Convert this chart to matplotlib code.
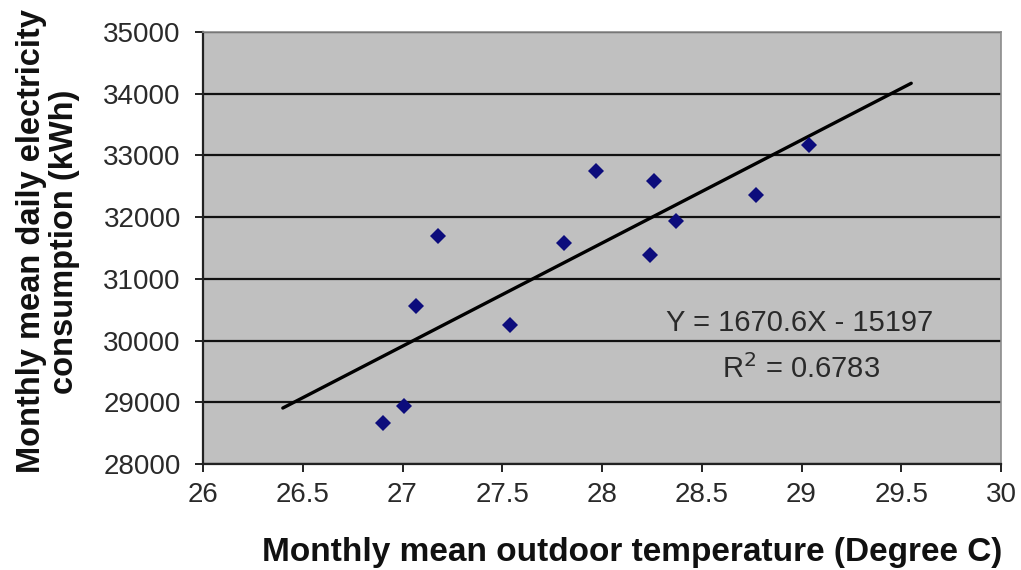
import matplotlib
matplotlib.use("Agg")
import matplotlib.pyplot as plt
import numpy as np

# Monthly mean outdoor temperature (deg C) and daily electricity use (kWh)
temperature = [26.90, 27.01, 27.07, 27.18, 27.54, 27.81, 27.97, 28.24, 28.26, 28.37, 28.77, 29.04]
consumption = [28660, 28940, 30560, 31700, 30260, 31580, 32740, 31390, 32590, 31940, 32360, 33170]

# Linear trend line
slope = 1670.6
intercept = -15197
r_squared = 0.6783
trend_x = [26.4, 29.55]

x_ticks = [26, 26.5, 27, 27.5, 28, 28.5, 29, 29.5, 30]
y_ticks = [28000, 29000, 30000, 31000, 32000, 33000, 34000, 35000]

plt.rcParams["font.family"] = ["Liberation Sans", "DejaVu Sans"]

fig = plt.figure(figsize=(10.21, 5.70), dpi=100)
fig.patch.set_facecolor("white")
ax = fig.add_axes([203 / 1021, 1 - 464 / 570, 798 / 1021, 432 / 570])
ax.set_facecolor("#c0c0c0")

ax.set_xlim(26, 30)
ax.set_ylim(28000, 35000)
ax.set_xticks(x_ticks)
ax.set_xticklabels([f"{t:g}" for t in x_ticks])
ax.set_yticks(y_ticks)
ax.set_yticklabels([str(t) for t in y_ticks])

ax.yaxis.grid(True, color="#111111", linewidth=1.6)
ax.set_axisbelow(True)

for side in ("top", "right"):
    ax.spines[side].set_color("#8c8c8c")
    ax.spines[side].set_linewidth(1.2)
for side in ("left", "bottom"):
    ax.spines[side].set_color("#222222")
    ax.spines[side].set_linewidth(1.6)

ax.tick_params(axis="both", direction="out", length=6, width=1.4, color="#222222",
               labelsize=20, labelcolor="#2a2a2a")
ax.tick_params(axis="y", pad=10)
ax.tick_params(axis="x", pad=7)

tx = np.array(trend_x)
ax.plot(tx, slope * tx + intercept, color="black", linewidth=2.4, zorder=3,
        solid_capstyle="round")

ax.plot(temperature, consumption, linestyle="none", marker="D", markersize=8,
        color="#0c0c7c", markeredgewidth=0, zorder=4)

ax.text(28.99, 30280, f"Y = {slope}X - {-intercept}", fontsize=21, color="#2a2a2a",
        ha="center", va="center")
ax.text(29.0, 29540, f"R$^2$ = {r_squared}", fontsize=21, color="#2a2a2a",
        ha="center", va="center")

ax.set_xlabel("Monthly mean outdoor temperature (Degree C)", fontsize=24,
              fontweight="bold", color="#111111")
ax.xaxis.set_label_coords(0.538, -0.205)
ax.xaxis.label.set_va("center")

ax.set_ylabel("Monthly mean daily electricity\nconsumption (kWh)", fontsize=23.5,
              fontweight="bold", color="#111111", linespacing=1.08)
ax.yaxis.set_label_coords(-0.194, 0.515)
ax.yaxis.label.set_va("center")

fig.savefig("out.png", dpi=100, facecolor="white")
